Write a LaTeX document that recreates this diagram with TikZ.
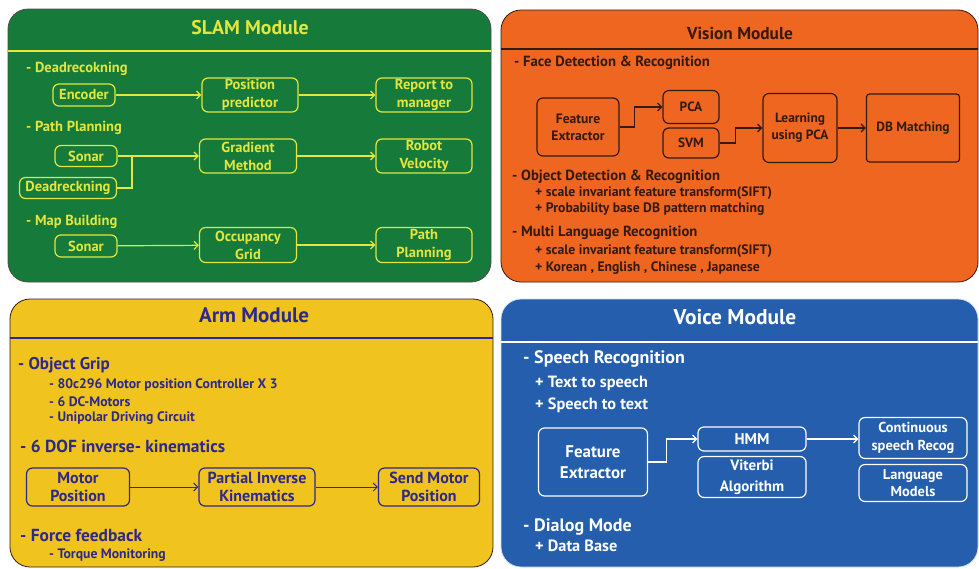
\documentclass[tikz,border=0pt]{standalone}
\usepackage{fontspec}
\setmainfont{PT Sans}
\usetikzlibrary{arrows.meta}
\definecolor{myGreen}{RGB}{22,122,58}
\definecolor{myLime}{RGB}{226,230,62}
\definecolor{myOrange}{RGB}{238,102,32}
\definecolor{myBrown}{RGB}{52,26,16}
\definecolor{myGold}{RGB}{240,195,30}
\definecolor{myNavy}{RGB}{45,40,140}
\definecolor{myBlue}{RGB}{36,94,172}

\begin{document}
\begin{tikzpicture}[x=1pt,y=-1pt,
	panel/.style={rounded corners=20, line width=0.8},
	title/.style={font=\fontsize{19.8}{21}\selectfont\bfseries},
	item/.style={anchor=west, inner sep=0, font=\fontsize{14.5}{16}\selectfont\bfseries},
	sub/.style={anchor=west, inner sep=0, font=\fontsize{13.7}{15}\selectfont\bfseries},
	blk/.style={draw, rounded corners=6, line width=1.2, align=center, inner sep=0, font=\fontsize{14.5}{18}\selectfont\bfseries},
	>={Straight Barb[length=4,width=8]}]
			\useasboundingbox (0,0) rectangle (979,568);

			% SLAM
			\draw[panel, fill=myGreen, draw=black!70] (8,9) rectangle (491,282);
			\draw[myLime, line width=1.2] (8,51) -- (491,51);
			\draw (250,28) node[title, myLime] (slamT) {SLAM Module};
			\draw (26,69) node[item, myLime] (dead) {- Deadrecokning};
			\draw (26,128) node[item, myLime] (path) {- Path Planning};
			\draw (26,222) node[item, myLime] (map) {- Map Building};
			\draw (84,95) node[blk, myLime, minimum width=62, minimum height=22] (enc) {Encoder};
			\draw (250,95) node[blk, myLime, minimum width=96, minimum height=34] (pos) {Position\\predictor};
			\draw (424,95) node[blk, myLime, minimum width=96, minimum height=34] (rep) {Report to\\manager};
			\draw (86,156) node[blk, myLime, minimum width=62, minimum height=21] (son1) {Sonar};
			\draw (68,188) node[blk, myLime, minimum width=97, minimum height=21] (deadr) {Deadreckning};
			\draw (248,156) node[blk, myLime, minimum width=97, minimum height=34] (grad) {Gradient\\Method};
			\draw (424,156) node[blk, myLime, minimum width=96, minimum height=34] (vel) {Robot\\Velocity};
			\draw (86,246) node[blk, myLime, minimum width=62, minimum height=22] (son2) {Sonar};
			\draw (248,245) node[blk, myLime, minimum width=97, minimum height=35] (occ) {Occupancy\\Grid};
			\draw (424,245) node[blk, myLime, minimum width=96, minimum height=35] (plan) {Path\\Planning};
			\coordinate (join) at (132,156);
			\draw[myLime, line width=1.2] (deadr.east) -| (join);
			\path[->, myLime, line width=1.2]
			(enc) edge (pos)
			(pos) edge (rep)
			(son1) edge (grad)
			(grad) edge (vel)
			(son2) edge (occ)
			(occ) edge (plan)
			;

			% Vision
			\draw[panel, fill=myOrange, draw=myBrown] (501,10) rectangle (978,282);
			\draw[myBrown, line width=1.2] (501,49) -- (978,49);
			\draw (740,33) node[title, myBrown, font=\fontsize{17.3}{19}\selectfont\bfseries] (visT) {Vision Module};
			\draw (514,63) node[item, myBrown, font=\fontsize{14.7}{16}\selectfont\bfseries] (face) {- Face Detection \& Recognition};
			\draw (512,177) node[item, myBrown, font=\fontsize{14.7}{16}\selectfont\bfseries] (obj) {- Object Detection \& Recognition};
			\draw (535,193) node[sub, myBrown] (sift1) {+ scale invariant feature transform(SIFT)};
			\draw (535,209) node[sub, myBrown] (prob) {+ Probability base DB pattern matching};
			\draw (512,233) node[item, myBrown, font=\fontsize{14.7}{16}\selectfont\bfseries] (multi) {- Multi Language Recognition};
			\draw (535,251) node[sub, myBrown] (sift2) {+ scale invariant feature transform(SIFT)};
			\draw (535,268) node[sub, myBrown] (lang) {+ Korean , English , Chinese , Japanese};
			\draw (578,127) node[blk, myBrown, font=\fontsize{13.6}{17}\selectfont\bfseries, minimum width=82, minimum height=58] (feat) {Feature\\Extractor};
			\draw (691,107) node[blk, myBrown, font=\fontsize{13.4}{17}\selectfont\bfseries, minimum width=56, minimum height=33] (pca) {PCA};
			\draw (691,143) node[blk, myBrown, font=\fontsize{13.4}{17}\selectfont\bfseries, minimum width=56, minimum height=30] (svm) {SVM};
			\draw (800,128) node[blk, myBrown, font=\fontsize{13.4}{17}\selectfont\bfseries, minimum width=74, minimum height=69] (learn) {Learning\\using PCA};
			\draw (913,128) node[blk, myBrown, font=\fontsize{13.4}{17}\selectfont\bfseries, minimum width=93, minimum height=68, rounded corners=3] (db) {DB Matching};
			\draw[->, myBrown, line width=1.2] (feat.east) -- ++(15,0) |- (pca.west);
			\draw[->, myBrown, line width=1.2] (svm.east) -- ++(16,0) |- (learn.west);
			\path[->, myBrown, line width=1.2]
			(learn) edge (db)
			;

			% Arm
			\draw[panel, fill=myGold, draw=myBrown] (10,299) rectangle (493,567);
			\draw[myNavy, line width=1.5] (10,338) -- (493,338);
			\draw (254,315) node[title, myNavy, font=\fontsize{21}{23}\selectfont\bfseries] (armT) {Arm Module};
			\draw (18,365) node[item, myNavy, font=\fontsize{17}{19}\selectfont\bfseries] (grip) {- Object Grip};
			\draw (49,385) node[sub, myNavy] (ctrl) {- 80c296 Motor position Controller X 3};
			\draw (49,402) node[sub, myNavy] (dc) {- 6 DC-Motors};
			\draw (49,418) node[sub, myNavy] (uni) {- Unipolar Driving Circuit};
			\draw (20,446) node[item, myNavy, font=\fontsize{17.4}{19}\selectfont\bfseries] (dof) {- 6 DOF inverse- kinematics};
			\draw (20,535) node[item, myNavy, font=\fontsize{17.4}{19}\selectfont\bfseries] (force) {- Force feedback};
			\draw (49,555) node[sub, myNavy] (torq) {- Torque Monitoring};
			\draw (78,487) node[blk, myNavy, font=\fontsize{16}{18.5}\selectfont\bfseries, minimum width=103, minimum height=38] (mpos) {Motor\\Position};
			\draw (257,487) node[blk, myNavy, font=\fontsize{16}{18.5}\selectfont\bfseries, minimum width=116, minimum height=38] (pik) {Partial Inverse\\Kinematics};
			\draw (429,487) node[blk, myNavy, font=\fontsize{16}{18.5}\selectfont\bfseries, minimum width=101, minimum height=38] (send) {Send Motor\\Position};
			\path[->, myNavy, line width=1]
			(mpos) edge (pik)
			(pik) edge (send)
			;

			% Voice
			\draw[panel, fill=myBlue, draw=white!80!myBlue] (501,299) rectangle (978,567);
			\draw[white, line width=1.5] (501,342) -- (978,342);
			\draw (735,317) node[title, white, font=\fontsize{21.4}{23}\selectfont\bfseries] (voiT) {Voice Module};
			\draw (523,359) node[item, white, font=\fontsize{18}{20}\selectfont\bfseries] (speech) {- Speech Recognition};
			\draw (535,383) node[sub, white, font=\fontsize{16.3}{18}\selectfont\bfseries] (tts) {+ Text to speech};
			\draw (535,405) node[sub, white, font=\fontsize{16.3}{18}\selectfont\bfseries] (stt) {+ Speech to text};
			\draw (523,527) node[item, white, font=\fontsize{18}{20}\selectfont\bfseries] (dialog) {- Dialog Mode};
			\draw (535,546) node[sub, white, font=\fontsize{16.3}{18}\selectfont\bfseries] (base) {+ Data Base};
			\draw (593,462) node[blk, white, font=\fontsize{16.9}{21}\selectfont\bfseries, minimum width=109, minimum height=68] (vfeat) {Feature\\Extractor};
			\draw (752,439) node[blk, white, font=\fontsize{15.5}{18}\selectfont\bfseries, minimum width=108, minimum height=24] (hmm) {HMM};
			\draw (752,477) node[blk, white, font=\fontsize{15}{21}\selectfont\bfseries, minimum width=108, minimum height=41] (vit) {Viterbi\\Algorithm};
			\draw (913,438) node[blk, white, font=\fontsize{14.4}{18}\selectfont\bfseries, minimum width=108, minimum height=41] (cont) {Continuous\\speech Recog};
			\draw (913,483) node[blk, white, font=\fontsize{14.4}{17.5}\selectfont\bfseries, minimum width=108, minimum height=37] (lmod) {Language\\Models};
			\draw[->, white, line width=1.2] (vfeat.east) -- ++(18,0) |- (hmm.west);
			\draw[->, white, line width=1.2] (hmm.east) -- (hmm.east -| cont.west);
		\end{tikzpicture}
\end{document}
